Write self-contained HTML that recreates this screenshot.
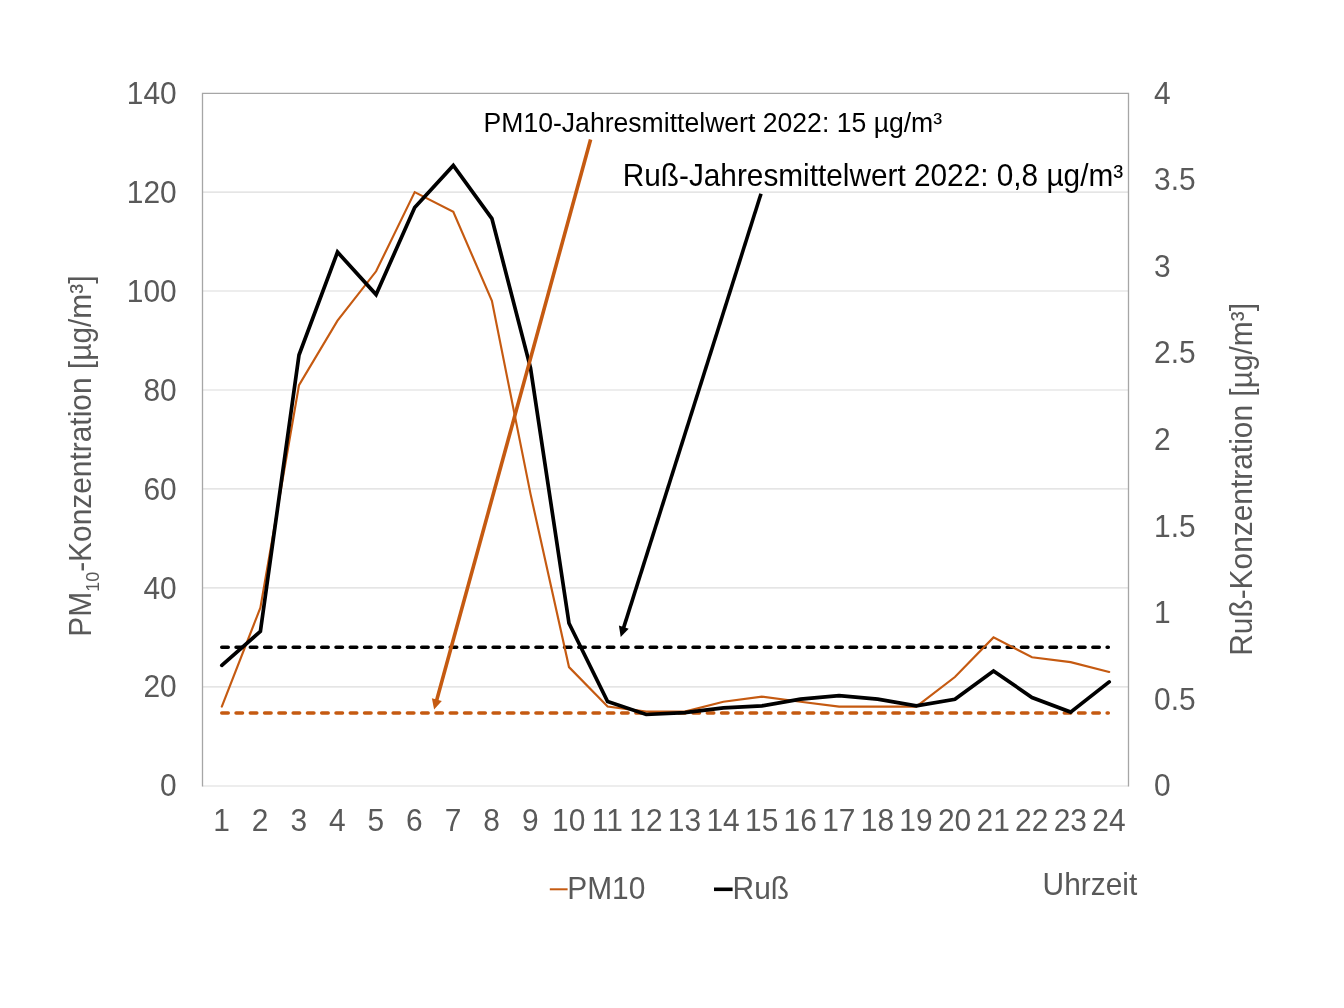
<!DOCTYPE html>
<html lang="de"><head><meta charset="utf-8"><title>PM10 und Ruß</title>
<style>
html,body{margin:0;padding:0;background:#fff;}
body{width:1344px;height:1008px;overflow:hidden;}
svg{display:block;font-family:"Liberation Sans",Arial,sans-serif;}
.ax text{font-size:29.9px;fill:#595959;}
.grid line{stroke:#dcdcdc;stroke-width:1.2;}
</style></head><body>
<svg width="1344" height="1008" viewBox="0 0 1344 1008">
<rect width="1344" height="1008" fill="#fff"/>
<g class="grid"><line x1="202.5" x2="1128.5" y1="686.8" y2="686.8"/><line x1="202.5" x2="1128.5" y1="587.9" y2="587.9"/><line x1="202.5" x2="1128.5" y1="488.9" y2="488.9"/><line x1="202.5" x2="1128.5" y1="390.0" y2="390.0"/><line x1="202.5" x2="1128.5" y1="291.0" y2="291.0"/><line x1="202.5" x2="1128.5" y1="192.1" y2="192.1"/><line x1="202.5" x2="1128.5" y1="786" y2="786"/></g>
<path d="M202.5,786.6 V93.3 H1128.5 V786.6" fill="none" stroke="#a6a6a6" stroke-width="1.3"/>
<g class="ax"><text transform="translate(176.7,796.4) scale(1,1.04)" text-anchor="end">0</text><text transform="translate(176.7,697.4) scale(1,1.04)" text-anchor="end">20</text><text transform="translate(176.7,598.5) scale(1,1.04)" text-anchor="end">40</text><text transform="translate(176.7,499.6) scale(1,1.04)" text-anchor="end">60</text><text transform="translate(176.7,400.6) scale(1,1.04)" text-anchor="end">80</text><text transform="translate(176.7,301.6) scale(1,1.04)" text-anchor="end">100</text><text transform="translate(176.7,202.7) scale(1,1.04)" text-anchor="end">120</text><text transform="translate(176.7,103.7) scale(1,1.04)" text-anchor="end">140</text><text transform="translate(1154.0,796.3) scale(1,1.04)">0</text><text transform="translate(1154.0,709.7) scale(1,1.04)">0.5</text><text transform="translate(1154.0,623.1) scale(1,1.04)">1</text><text transform="translate(1154.0,536.6) scale(1,1.04)">1.5</text><text transform="translate(1154.0,450.0) scale(1,1.04)">2</text><text transform="translate(1154.0,363.4) scale(1,1.04)">2.5</text><text transform="translate(1154.0,276.8) scale(1,1.04)">3</text><text transform="translate(1154.0,190.2) scale(1,1.04)">3.5</text><text transform="translate(1154.0,103.7) scale(1,1.04)">4</text><text transform="translate(221.5,831.0) scale(1,1.04)" text-anchor="middle">1</text><text transform="translate(260.1,831.0) scale(1,1.04)" text-anchor="middle">2</text><text transform="translate(298.7,831.0) scale(1,1.04)" text-anchor="middle">3</text><text transform="translate(337.2,831.0) scale(1,1.04)" text-anchor="middle">4</text><text transform="translate(375.8,831.0) scale(1,1.04)" text-anchor="middle">5</text><text transform="translate(414.4,831.0) scale(1,1.04)" text-anchor="middle">6</text><text transform="translate(453.0,831.0) scale(1,1.04)" text-anchor="middle">7</text><text transform="translate(491.6,831.0) scale(1,1.04)" text-anchor="middle">8</text><text transform="translate(530.2,831.0) scale(1,1.04)" text-anchor="middle">9</text><text transform="translate(568.7,831.0) scale(1,1.04)" text-anchor="middle">10</text><text transform="translate(607.3,831.0) scale(1,1.04)" text-anchor="middle">11</text><text transform="translate(645.9,831.0) scale(1,1.04)" text-anchor="middle">12</text><text transform="translate(684.5,831.0) scale(1,1.04)" text-anchor="middle">13</text><text transform="translate(723.1,831.0) scale(1,1.04)" text-anchor="middle">14</text><text transform="translate(761.7,831.0) scale(1,1.04)" text-anchor="middle">15</text><text transform="translate(800.2,831.0) scale(1,1.04)" text-anchor="middle">16</text><text transform="translate(838.8,831.0) scale(1,1.04)" text-anchor="middle">17</text><text transform="translate(877.4,831.0) scale(1,1.04)" text-anchor="middle">18</text><text transform="translate(916.0,831.0) scale(1,1.04)" text-anchor="middle">19</text><text transform="translate(954.6,831.0) scale(1,1.04)" text-anchor="middle">20</text><text transform="translate(993.2,831.0) scale(1,1.04)" text-anchor="middle">21</text><text transform="translate(1031.7,831.0) scale(1,1.04)" text-anchor="middle">22</text><text transform="translate(1070.3,831.0) scale(1,1.04)" text-anchor="middle">23</text><text transform="translate(1108.9,831.0) scale(1,1.04)" text-anchor="middle">24</text>
<text transform="translate(91.4,636.7) rotate(-90) scale(1,1.025)">PM<tspan font-size="18" dy="7.3">10</tspan><tspan dy="-7.3">-Konzentration [µg/m³]</tspan></text>
<text transform="translate(1252.3,655.8) rotate(-90) scale(1,1.025)">Ruß-Konzentration [µg/m³]</text>
<text transform="translate(1042.6,895.3) scale(1,1.025)">Uhrzeit</text>
<text transform="translate(567.2,898.9) scale(1,1.03)">PM10</text>
<text transform="translate(732.6,898.9) scale(1,1.025)">Ruß</text>
</g>
<line x1="549.8" x2="567.6" y1="889.3" y2="889.3" stroke="#c55a11" stroke-width="2"/>
<line x1="714" x2="732.6" y1="889.3" y2="889.3" stroke="#000" stroke-width="3.6"/>
<line x1="221.75" x2="1108.3" y1="647.35" y2="647.35" stroke="#000" stroke-width="3.5" stroke-dasharray="6.5 7.78" stroke-linecap="round"/>
<line x1="221.75" x2="1108.3" y1="712.9" y2="712.9" stroke="#c55a11" stroke-width="3.5" stroke-dasharray="6.5 7.78" stroke-linecap="round"/>
<polyline points="221.8,706.6 260.4,607.7 299.0,385.1 337.5,320.7 376.1,271.3 414.7,192.1 453.3,211.9 491.9,300.9 530.5,493.9 569.0,667.1 607.6,706.6 646.2,711.6 684.8,711.6 723.4,701.7 762.0,696.7 800.5,701.7 839.1,706.6 877.7,706.6 916.3,706.6 954.9,677.0 993.5,637.4 1032.0,657.2 1070.6,662.1 1109.2,672.0" fill="none" stroke="#c55a11" stroke-width="2.15" stroke-linejoin="miter" stroke-linecap="round"/>
<polyline points="221.8,665.4 260.4,631.4 299.0,355.0 337.5,252.1 376.1,294.6 414.7,207.5 453.3,165.5 491.9,218.6 530.5,367.9 569.0,623.3 607.6,701.5 646.2,714.5 684.8,712.7 723.4,707.9 762.0,705.8 800.5,699.2 839.1,695.6 877.7,699.2 916.3,705.8 954.9,699.2 993.5,671.0 1032.0,697.5 1070.6,712.1 1109.2,681.9" fill="none" stroke="#000" stroke-width="3.7" stroke-linejoin="miter" stroke-miterlimit="8" stroke-linecap="round"/>
<line x1="590.6" y1="139.5" x2="436.6" y2="700.6" stroke="#c55a11" stroke-width="3.6"/>
<polygon points="434.1,709.6 431.9,698.3 441.8,701.0" fill="#c55a11"/>
<line x1="761" y1="193.8" x2="623.5" y2="628.1" stroke="#000" stroke-width="3.6"/>
<polygon points="620.7,637.0 618.9,625.6 628.7,628.7" fill="#000"/>
<text transform="translate(483.5,132.1) scale(1,1.025)" font-size="26.6" fill="#000">PM10-Jahresmittelwert 2022: 15 µg/m³</text>
<text transform="translate(622.7,185.8) scale(1,1.025)" font-size="29.8" fill="#000">Ruß-Jahresmittelwert 2022: 0,8 µg/m³</text>
</svg>
</body></html>
